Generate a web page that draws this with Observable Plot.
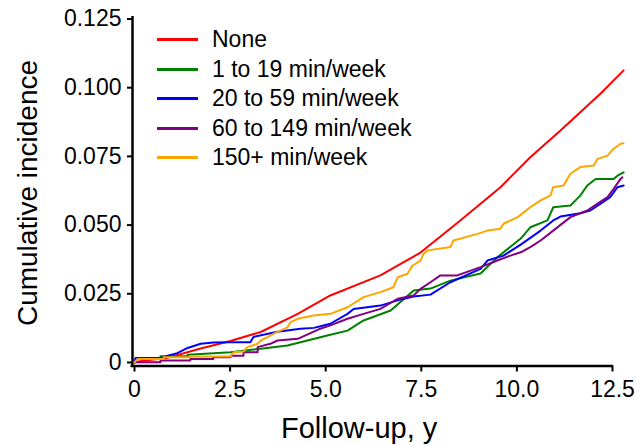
<!DOCTYPE html>
<html>
<head>
<meta charset="utf-8">
<script src="https://cdn.jsdelivr.net/npm/d3@7"></script>
<script src="https://cdn.jsdelivr.net/npm/@observablehq/plot@0.6"></script>
<style>
  html, body { margin: 0; padding: 0; background: #fff; }
  #wrap { position: relative; width: 636px; height: 445px; font-family: "Liberation Sans", Arial, sans-serif; color: #000; }
  #wrap svg { position: absolute; left: 0; top: 0; }
  .xtitle { position: absolute; left: 281px; top: 414px; font-size: 29px; line-height: 29px; white-space: nowrap; }
  .ytitle { position: absolute; left: 28px; top: 193px; font-size: 28px; line-height: 28px; white-space: nowrap;
            transform: translate(-50%, -50%) rotate(-90deg); }
  .legend { position: absolute; left: 157px; top: 25px; }
  .legend .row { display: flex; align-items: center; height: 29.5px; font-size: 23px; line-height: 23px; white-space: nowrap; }
  .legend .sw { width: 41px; height: 3px; margin-right: 14px; }
</style>
</head>
<body>
<div id="wrap"></div>
<script>
// ---- data ----
const seriesNames = ["None", "1 to 19 min/week", "20 to 59 min/week", "60 to 149 min/week", "150+ min/week"];
const seriesColors = ["#ff0000", "#008000", "#0000ff", "#800080", "#ffa500"];

const none = [[0,0],[0.15,0.0005],[0.81,0.0015],[1.73,0.0051],[2.51,0.0078],[3.30,0.0111],[4.27,0.0177],[5.12,0.0244],[6.43,0.0317],[7.48,0.0400],[8.52,0.0517],[9.57,0.0638],[10.35,0.0747],[11.14,0.0844],[12.19,0.0979],[12.79,0.1063]];

const min1to19 = [[0,0],[0.03,0.0016],[0.68,0.0016],[0.68,0.0023],[1.39,0.0023],[1.39,0.0028],[2.51,0.0037],[3.30,0.0050],[4.00,0.0062],[4.52,0.0080],[5.04,0.0098],[5.57,0.0116],[5.99,0.0153],[6.70,0.0189],[7.30,0.0262],[7.74,0.0269],[8.26,0.0298],[9.05,0.0324],[9.49,0.0383],[10.10,0.0451],[10.35,0.0492],[10.80,0.0517],[10.95,0.0565],[11.40,0.0571],[11.66,0.0608],[11.84,0.0644],[12.06,0.0668],[12.53,0.0668],[12.63,0.0680],[12.79,0.0692]];

const min20to59 = [[0,0],[0.03,0.0016],[0.68,0.0016],[0.87,0.0025],[1.12,0.0034],[1.39,0.0053],[1.73,0.0068],[2.06,0.0073],[2.51,0.0074],[3.03,0.0074],[3.11,0.0093],[3.74,0.0112],[4.34,0.0123],[4.69,0.0126],[5.12,0.0141],[5.57,0.0177],[5.73,0.0195],[6.43,0.0207],[6.88,0.0226],[7.30,0.0240],[7.74,0.0247],[8.26,0.0292],[9.05,0.0341],[9.23,0.0371],[9.65,0.0389],[10.10,0.0429],[10.62,0.0480],[10.95,0.0517],[11.14,0.0531],[11.66,0.0543],[11.92,0.0553],[12.19,0.0578],[12.44,0.0602],[12.63,0.0638],[12.79,0.0644]];

const min60to149 = [[0,0],[0.03,0.0001],[0.68,0.0001],[0.68,0.0007],[1.46,0.0007],[1.46,0.0013],[2.06,0.0013],[2.06,0.0019],[2.51,0.0019],[2.51,0.0025],[2.85,0.0025],[2.85,0.0037],[3.22,0.0037],[3.22,0.0056],[3.55,0.0068],[3.74,0.0080],[4.27,0.0086],[4.86,0.0123],[5.12,0.0135],[5.57,0.0159],[5.99,0.0177],[6.43,0.0195],[6.88,0.0232],[7.30,0.0244],[7.48,0.0268],[7.74,0.0292],[8.00,0.0317],[8.44,0.0317],[9.05,0.0347],[9.49,0.0371],[9.83,0.0389],[10.10,0.0401],[10.35,0.0420],[10.62,0.0444],[10.95,0.0480],[11.40,0.0529],[11.84,0.0553],[12.11,0.0578],[12.37,0.0602],[12.53,0.0632],[12.71,0.0668],[12.76,0.0674]];

const min150plus = [[0,0],[0.08,0.0013],[0.76,0.0013],[0.76,0.0019],[1.46,0.0019],[1.46,0.0022],[2.51,0.0022],[2.59,0.0037],[2.85,0.0040],[2.95,0.0056],[3.22,0.0068],[3.30,0.0080],[3.48,0.0092],[3.63,0.0104],[4.00,0.0128],[4.08,0.0147],[4.27,0.0159],[4.69,0.0171],[5.12,0.0177],[5.57,0.0201],[5.99,0.0238],[6.43,0.0256],[6.77,0.0274],[6.88,0.0310],[7.14,0.0323],[7.27,0.0353],[7.48,0.0371],[7.56,0.0396],[7.67,0.0408],[8.26,0.0420],[8.34,0.0444],[8.97,0.0468],[9.23,0.0480],[9.57,0.0487],[9.65,0.0505],[10.02,0.0529],[10.35,0.0565],[10.62,0.0590],[10.88,0.0608],[10.95,0.0638],[11.22,0.0644],[11.40,0.0687],[11.66,0.0711],[12.01,0.0717],[12.11,0.0741],[12.37,0.0753],[12.53,0.0778],[12.71,0.0796],[12.79,0.0798]];

const xTicks = [0, 2.5, 5, 7.5, 10, 12.5];
const xTickLabels = ["0", "2.5", "5.0", "7.5", "10.0", "12.5"];
const yTicks = [0, 0.025, 0.05, 0.075, 0.1, 0.125];
const yTickLabels = ["0", "0.025", "0.050", "0.075", "0.100", "0.125"];
const xTitle = "Follow-up, y";
const yTitle = "Cumulative incidence";

// ---- build table ----
const allSeries = [none, min1to19, min20to59, min60to149, min150plus];
const rows = [];
allSeries.forEach((s, k) => s.forEach(([t, v]) => rows.push({series: seriesNames[k], t, v})));

const chart = Plot.plot({
  width: 636,
  height: 445,
  marginLeft: 134,
  marginRight: 24,
  marginTop: 18.5,
  marginBottom: 83,
  style: {fontFamily: "'Liberation Sans', Arial, sans-serif", fontSize: "23px", color: "#000", background: "transparent", overflow: "visible"},
  x: {domain: [0, 12.5], axis: null},
  y: {domain: [0, 0.125], axis: null},
  color: {domain: seriesNames, range: seriesColors},
  marks: [
    Plot.axisY(yTicks, {
      tickFormat: d => yTickLabels[yTicks.indexOf(d)],
      tickSize: 5, tickPadding: 6, dx: -2,
      stroke: "#000", strokeWidth: 2, fill: "#000", fontSize: 23, label: null
    }),
    Plot.axisX(xTicks, {
      tickFormat: d => xTickLabels[xTicks.indexOf(d)],
      tickSize: 6, tickPadding: 9, dy: 3.5,
      stroke: "#000", strokeWidth: 2, fill: "#000", fontSize: 23, label: null
    }),
    Plot.ruleX([0], {dx: -2, stroke: "#000", strokeWidth: 2.5, insetTop: -2.5, insetBottom: -5}),
    Plot.ruleY([0], {dy: 3.5, stroke: "#000", strokeWidth: 2.5, insetLeft: -3.5, insetRight: -1}),
    Plot.line(rows, {x: "t", y: "v", z: "series", stroke: "series", strokeWidth: 2, curve: "linear"})
  ]
});

const wrap = document.getElementById("wrap");
wrap.appendChild(chart);

const xt = document.createElement("div");
xt.className = "xtitle"; xt.textContent = xTitle; wrap.appendChild(xt);
const yt = document.createElement("div");
yt.className = "ytitle"; yt.textContent = yTitle; wrap.appendChild(yt);

const lg = document.createElement("div");
lg.className = "legend";
seriesNames.forEach((name, i) => {
  const r = document.createElement("div"); r.className = "row";
  const sw = document.createElement("span"); sw.className = "sw"; sw.style.background = seriesColors[i];
  const tx = document.createElement("span"); tx.textContent = name;
  r.appendChild(sw); r.appendChild(tx); lg.appendChild(r);
});
wrap.appendChild(lg);
</script>
</body>
</html>
